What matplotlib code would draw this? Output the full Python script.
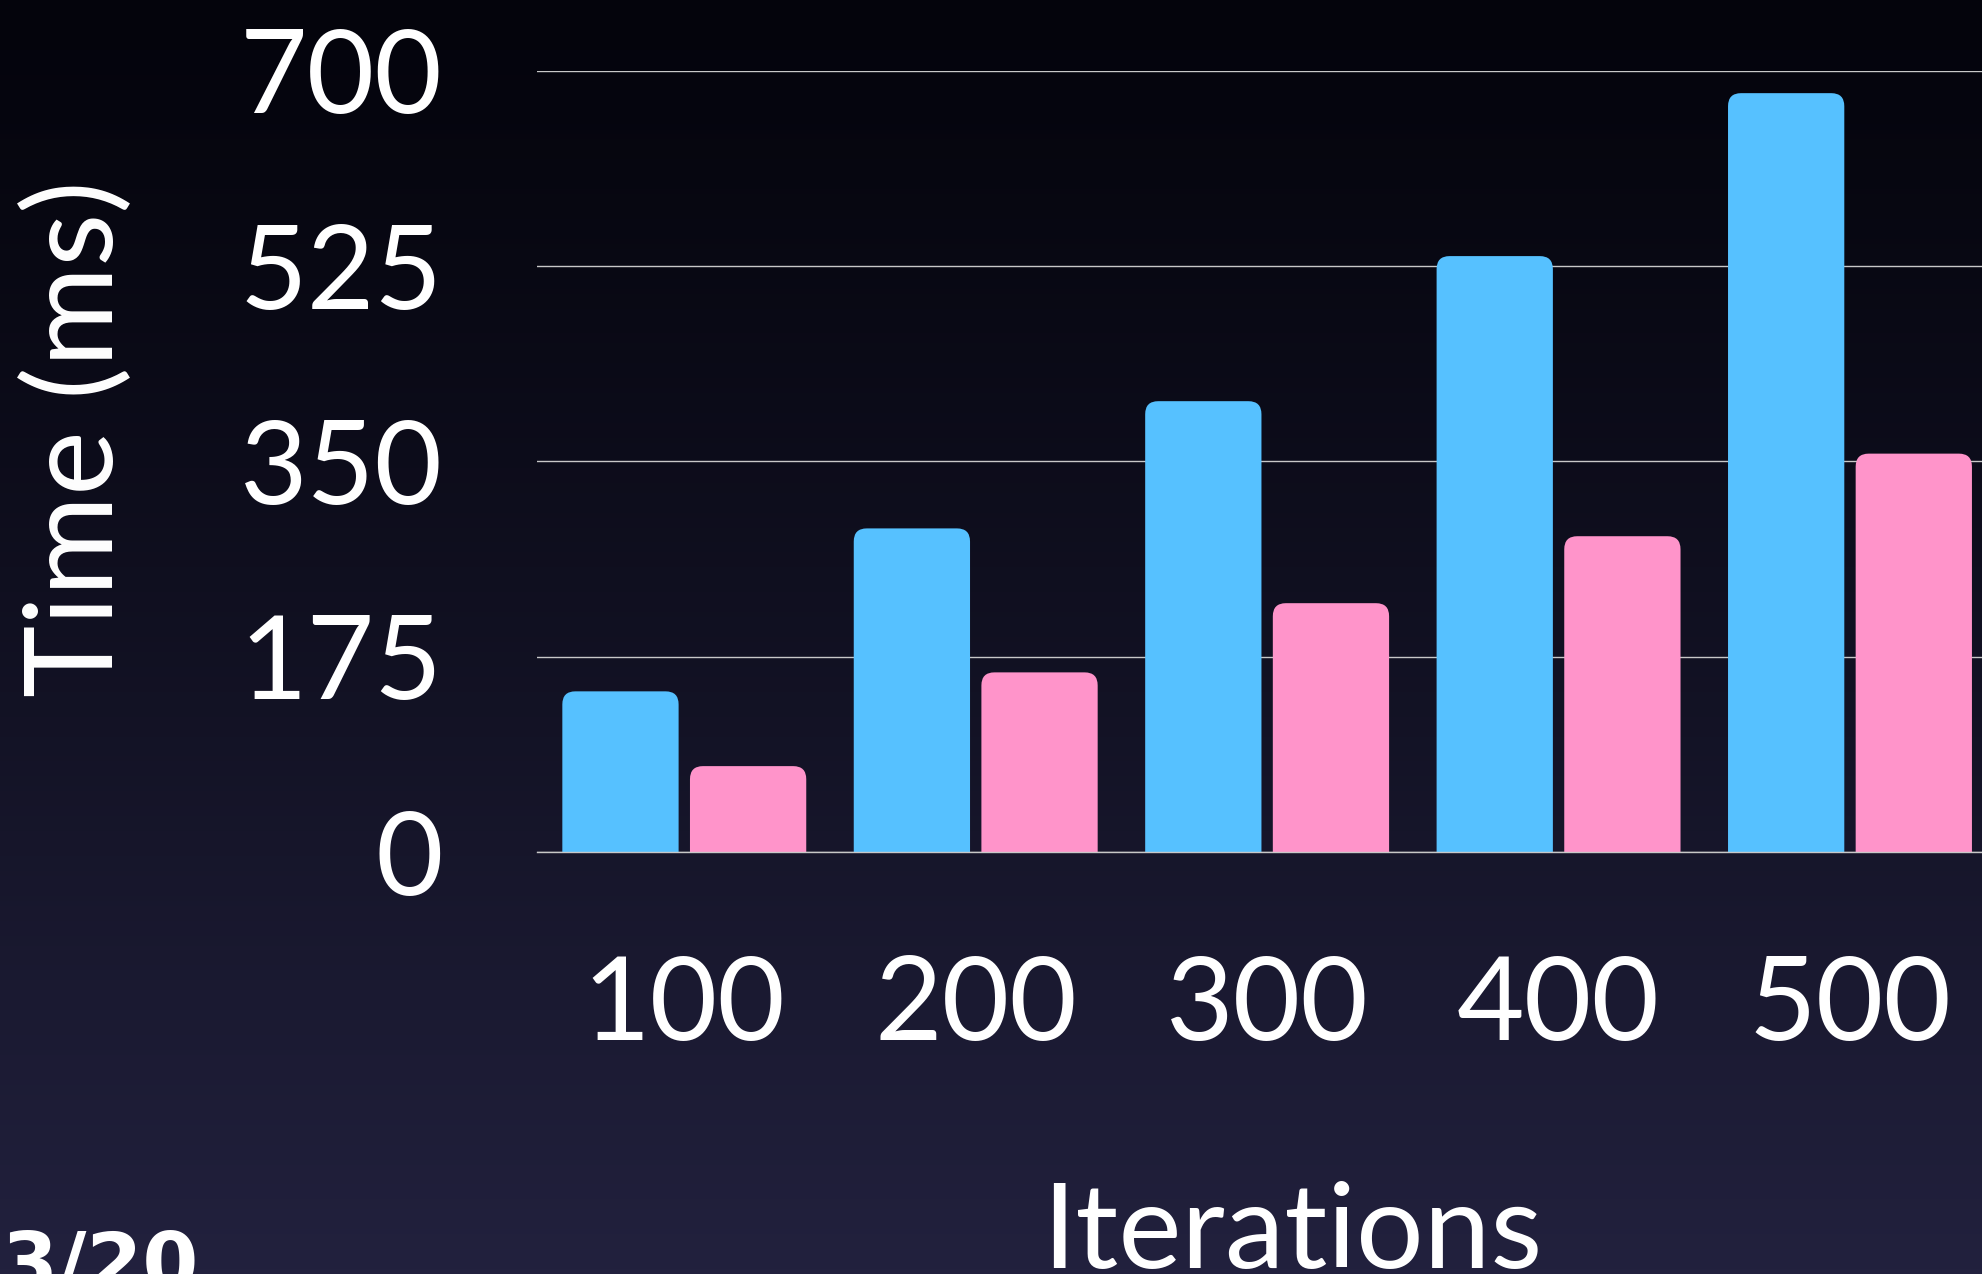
import matplotlib.pyplot as plt
import numpy as np
from matplotlib.patches import FancyBboxPatch

iterations = ['100', '200', '300', '400', '500']
time_blue = [144, 290, 404, 534, 680]
time_pink = [77, 161, 223, 283, 357]
yticks = [0, 175, 350, 525, 700]

blue = '#56c1ff'
pink = '#ff94ca'

fig = plt.figure(figsize=(19.82, 12.74), dpi=100)

# dark gradient backdrop
bg = fig.add_axes([0, 0, 1, 1], zorder=-10)
grad = np.linspace(0, 1, 256).reshape(-1, 1)
top = np.array([4, 4, 12]) / 255
bottom = np.array([34, 33, 62]) / 255
img = top + (bottom - top) * grad[:, :, None] ** 1.2
bg.imshow(img, aspect='auto', extent=[0, 1, 0, 1])
bg.axis('off')

ax = fig.add_axes([0.271, 0.3312, 0.729, 0.6132])
ax.patch.set_alpha(0)

x = np.arange(len(iterations))
w = 0.399
off = 0.219
b1 = ax.bar(x - off, time_blue, w, color=blue, zorder=3)
b2 = ax.bar(x + off, time_pink, w, color=pink, zorder=3)

ax.set_xlim(-0.505, 4.453)
ax.set_ylim(0, 700)

# swap the plain rectangles for ones with rounded tops
fig.canvas.draw()
bbox = ax.get_window_extent()
xpp = (4.453 + 0.505) / bbox.width
ypp = 700 / bbox.height
r = 13 * xpp
for bars in (b1, b2):
    for rect in bars:
        h = rect.get_height()
        p = FancyBboxPatch((rect.get_x(), -20), rect.get_width(), h + 20,
                           boxstyle=f'round,pad=0,rounding_size={r}',
                           mutation_aspect=ypp / xpp,
                           fc=rect.get_facecolor(), ec='none', zorder=3)
        ax.add_patch(p)
        rect.remove()

ax.set_yticks(yticks)
ax.set_yticklabels([str(v) for v in yticks])
ax.set_xticks(x)
ax.set_xticklabels(iterations)
ax.grid(axis='y', color='#c8c8c8', lw=1.0, zorder=1)
ax.axhline(0, color='#c8c8c8', lw=1.0, zorder=4, clip_on=False)
ax.tick_params(length=0, colors='white', labelsize=84)
ax.tick_params(axis='y', pad=68)
ax.tick_params(axis='x', pad=74)
for lab in ax.get_xticklabels() + ax.get_yticklabels():
    lab.set_fontfamily('Lato')
    lab.set_fontweight('normal')
for s in ax.spines.values():
    s.set_visible(False)

fig.text(0.0394, 0.656, 'Time (ms)', rotation=90, ha='center', va='center',
         color='white', fontsize=88, family='Lato')
fig.text(0.652, 0.0047, 'Iterations', ha='center', va='baseline',
         color='white', fontsize=86, family='Lato')
fig.text(0.001, -0.0126, '3/20', ha='left', va='baseline', color='white',
         fontsize=58, family='DejaVu Sans', fontweight='bold', style='normal')

fig.savefig('out.png', dpi=100)
